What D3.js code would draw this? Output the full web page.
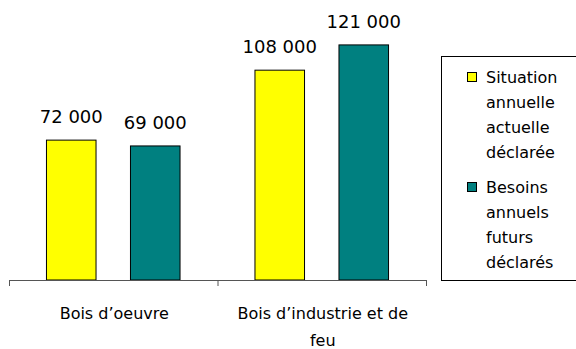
<!DOCTYPE html>
<html>
<head>
<meta charset="utf-8">
<script src="https://cdn.jsdelivr.net/npm/d3@7"></script>
<style>
  html, body { margin: 0; padding: 0; background: #fff; }
  svg { display: block; }
  text { font-family: "Comic Sans MS", "DejaVu Sans", sans-serif; fill: #000; }
</style>
</head>
<body>
<svg id="chart" width="576" height="349"></svg>
<script>
// Wood volumes by category (declared)
const categories = ["Bois d\u2019oeuvre", "Bois d\u2019industrie et de feu"];
const seriesNames = ["Situation annuelle actuelle déclarée", "Besoins annuels futurs déclarés"];
const currentValues = [72000, 108000];
const futureValues = [69000, 121000];
const seriesColors = ["#FFFF00", "#008080"];
const valueLabels = [["72 000", "108 000"], ["69 000", "121 000"]];

const series = [currentValues, futureValues];

const svg = d3.select("#chart");

const plot = { left: 9, right: 426, top: 8, bottom: 280 };

const x0 = d3.scaleBand()
  .domain(categories)
  .range([plot.left, plot.right])
  .padding(0);

const x1 = d3.scaleBand()
  .domain(d3.range(series.length))
  .range([0, x0.bandwidth()])
  .paddingInner(0.41)
  .paddingOuter(0.446);

const y = d3.scaleLinear()
  .domain([0, 140000])
  .range([plot.bottom, plot.top]);

// Bars
const groups = svg.selectAll("g.cat")
  .data(categories)
  .join("g")
  .attr("class", "cat")
  .attr("transform", d => `translate(${x0(d)},0)`);

groups.each(function(cat, ci) {
  const g = d3.select(this);
  series.forEach((vals, si) => {
    g.append("rect")
      .attr("x", x1(si))
      .attr("y", y(vals[ci]))
      .attr("width", x1.bandwidth())
      .attr("height", y(0) - y(vals[ci]))
      .attr("fill", seriesColors[si])
      .attr("stroke", "#000")
      .attr("stroke-width", 1);
    g.append("text")
      .attr("x", x1(si) + x1.bandwidth() / 2)
      .attr("y", y(vals[ci]) - 17)
      .attr("text-anchor", "middle")
      .style("font-size", "18px")
      .text(valueLabels[si][ci]);
  });
});

// Category axis: ticks sit on the boundaries between categories
const tickScale = d3.scaleLinear()
  .domain([0, categories.length])
  .range([plot.left, plot.right]);

const axis = svg.append("g")
  .attr("transform", `translate(0,${plot.bottom})`)
  .call(d3.axisBottom(tickScale)
    .tickValues(d3.range(categories.length + 1))
    .tickSize(6)
    .tickSizeOuter(0)
    .tickFormat(""));
axis.selectAll("path, line").attr("stroke", "#555").attr("stroke-width", 1);

// Category labels, wrapped to the band width
function wrap(sel, width, lineHeight) {
  sel.each(function() {
    const t = d3.select(this);
    const words = t.text().split(/\s+/);
    const xPos = t.attr("x");
    t.text(null);
    let line = [];
    let tspan = t.append("tspan").attr("x", xPos).attr("dy", 0);
    words.forEach(w => {
      line.push(w);
      tspan.text(line.join(" "));
      if (tspan.node().getComputedTextLength() > width && line.length > 1) {
        line.pop();
        tspan.text(line.join(" "));
        line = [w];
        tspan = t.append("tspan").attr("x", xPos).attr("dy", lineHeight).text(w);
      }
    });
  });
}

svg.append("g")
  .selectAll("text")
  .data(categories)
  .join("text")
  .attr("x", d => x0(d) + x0.bandwidth() / 2 + 1)
  .attr("y", 319)
  .attr("text-anchor", "middle")
  .style("font-size", "16px")
  .text(d => d)
  .call(wrap, 190, 27);

// Legend
const legend = svg.append("g");
legend.append("rect")
  .attr("x", 441.5)
  .attr("y", 56.5)
  .attr("width", 140)
  .attr("height", 224)
  .attr("fill", "#fff")
  .attr("stroke", "#000")
  .attr("stroke-width", 1);

const legendTop = [83, 193];
seriesNames.forEach((name, i) => {
  legend.append("rect")
    .attr("x", 467.5)
    .attr("y", legendTop[i] - 10.5)
    .attr("width", 9)
    .attr("height", 9)
    .attr("fill", seriesColors[i])
    .attr("stroke", "#000")
    .attr("stroke-width", 1);
  const t = legend.append("text")
    .attr("x", 486)
    .attr("y", legendTop[i])
    .style("font-size", "16px");
  name.split(" ").forEach((w, k) => {
    t.append("tspan").attr("x", 486).attr("dy", k === 0 ? 0 : 25).text(w);
  });
});
</script>
</body>
</html>
